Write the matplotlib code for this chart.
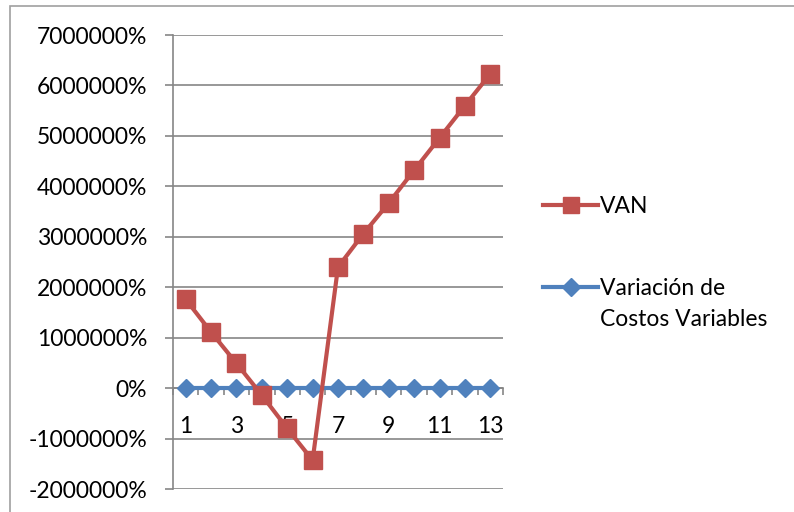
import matplotlib.pyplot as plt
from matplotlib.lines import Line2D
from matplotlib.ticker import FuncFormatter
import numpy as np

periodos = list(range(1, 14))
van = [1760000, 1110000, 490000, -140000, -800000, -1430000, 2400000,
       3060000, 3670000, 4320000, 4960000, 5600000, 6230000]
variacion_cv = [0] * 13

y_ticks = np.arange(-2000000, 7000001, 1000000)
x_labels = [1, 3, 5, 7, 9, 11, 13]

rojo = '#C0504D'
azul = '#4F81BD'
gris = '#868686'
fs = 16.5

plt.rcParams['font.family'] = ['Lato', 'DejaVu Sans']

fig = plt.figure(figsize=(7.94, 5.12), dpi=100)
ax = fig.add_axes([173 / 794, 1 - 489 / 512, 330 / 794, 454 / 512])

# marco exterior del grafico
fig.add_artist(plt.Rectangle((10 / 794, -0.1), 1.1, 1.1 - 5.5 / 512,
                             transform=fig.transFigure, fill=False,
                             edgecolor='#A0A0A0', linewidth=1.2))

ax.plot(periodos, variacion_cv, color=azul, lw=3, marker='D', ms=9.5,
        mec=azul, zorder=3)
ax.plot(periodos, van, color=rojo, lw=3, marker='s', ms=13,
        mec=rojo, zorder=4)

ax.set_xlim(0.5, 13.5)
ax.set_ylim(-2000000, 7000000)
ax.set_yticks(y_ticks)
ax.yaxis.set_major_formatter(FuncFormatter(lambda v, p: f'{v:.0f}%'))
ax.grid(axis='y', color=gris, lw=1.2)
ax.set_axisbelow(True)

for s in ['top', 'right']:
    ax.spines[s].set_visible(False)
ax.spines['left'].set_color(gris)
ax.spines['left'].set_linewidth(1.2)
ax.spines['bottom'].set_position(('data', 0))
ax.spines['bottom'].set_color(gris)
ax.spines['bottom'].set_linewidth(1.2)

ax.tick_params(axis='y', length=6, color=gris, width=1.2, pad=12.7,
               labelsize=fs, labelcolor='black')

# marcas entre categorias y etiquetas impares
ax.set_xticks(np.arange(0.5, 14, 1))
ax.set_xticklabels([])
ax.set_xticks(x_labels, minor=True)
ax.set_xticklabels([str(v) for v in x_labels], minor=True)
ax.tick_params(axis='x', which='major', length=5, color=gris, width=1.2,
               direction='out')
ax.tick_params(axis='x', which='minor', length=0, pad=20, labelsize=fs)

handles = [Line2D([], [], color=rojo, lw=3, marker='s', ms=12, mec=rojo),
           Line2D([], [], color=azul, lw=3, marker='D', ms=9.5, mec=azul)]
fig.legend(handles, ['VAN', 'Variación de'], loc='upper left',
           bbox_to_anchor=(543 / 794, 1 - 196 / 512), frameon=False,
           fontsize=fs, handlelength=2.4, handletextpad=0.1,
           labelspacing=2.66, borderpad=0, borderaxespad=0)
fig.text(600 / 794, 1 - 320 / 512, 'Costos Variables', fontsize=fs,
         va='center', ha='left')

fig.savefig('out.png', dpi=100)
